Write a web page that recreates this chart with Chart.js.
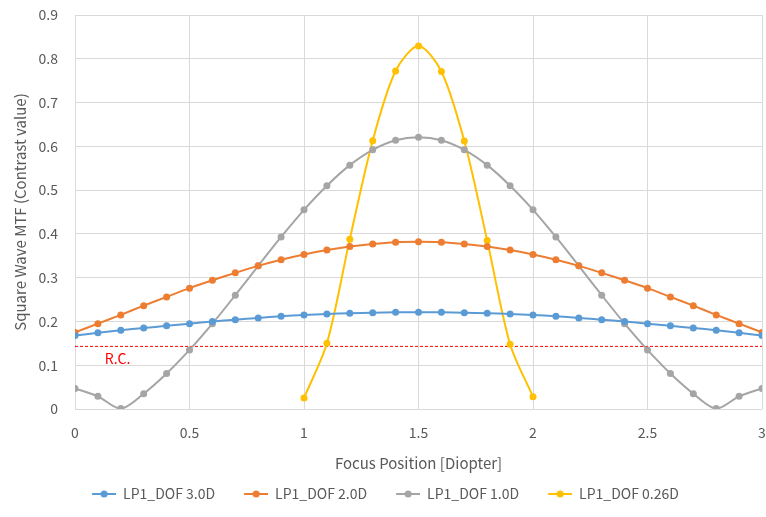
<!DOCTYPE html>
<html>
<head>
<meta charset="utf-8">
<script src="https://cdn.jsdelivr.net/npm/chart.js@4.4.0/dist/chart.umd.min.js"></script>
<style>
  html, body { margin: 0; padding: 0; background: #fff; }
  #wrap { width: 766px; height: 517px; }
</style>
</head>
<body>
<div id="wrap"><canvas id="mtfChart"></canvas></div>
<script>
// focus positions (diopter)
const focusFull = [0, 0.1, 0.2, 0.3, 0.4, 0.5, 0.6, 0.7, 0.8, 0.9, 1.0, 1.1, 1.2, 1.3, 1.4, 1.5,
                   1.6, 1.7, 1.8, 1.9, 2.0, 2.1, 2.2, 2.3, 2.4, 2.5, 2.6, 2.7, 2.8, 2.9, 3.0];
const focusNarrow = [1.0, 1.1, 1.2, 1.3, 1.4, 1.5, 1.6, 1.7, 1.8, 1.9, 2.0];

const dof30 = [0.168, 0.174, 0.180, 0.185, 0.190, 0.195, 0.200, 0.204, 0.208, 0.212, 0.215, 0.217, 0.219, 0.220, 0.221, 0.221,
               0.221, 0.220, 0.219, 0.217, 0.215, 0.212, 0.208, 0.204, 0.200, 0.195, 0.190, 0.185, 0.180, 0.174, 0.168];
const dof20 = [0.175, 0.195, 0.215, 0.236, 0.256, 0.276, 0.294, 0.311, 0.327, 0.341, 0.353, 0.363, 0.371, 0.377, 0.381, 0.382,
               0.381, 0.377, 0.371, 0.363, 0.353, 0.341, 0.327, 0.311, 0.294, 0.276, 0.256, 0.236, 0.215, 0.195, 0.175];
const dof10 = [0.047, 0.029, 0.001, 0.035, 0.081, 0.135, 0.195, 0.260, 0.327, 0.393, 0.455, 0.510, 0.557, 0.592, 0.614, 0.621,
               0.614, 0.592, 0.557, 0.510, 0.455, 0.393, 0.327, 0.260, 0.195, 0.135, 0.081, 0.035, 0.001, 0.029, 0.047];
const dof026 = [0.025, 0.150, 0.388, 0.613, 0.772, 0.829, 0.771, 0.612, 0.385, 0.148, 0.028];

const rcLevel = 0.143;
const rcLabel = 'R.C.';

const seriesNames = ['LP1_DOF 3.0D', 'LP1_DOF 2.0D', 'LP1_DOF 1.0D', 'LP1_DOF 0.26D'];
const seriesColors = ['#5b9bd5', '#ed7d31', '#a5a5a5', '#ffc000'];

function toPoints(xs, ys) {
    return xs.map((x, i) => ({ x: x, y: ys[i] }));
}

// legend marker: short line with a dot, with some empty room on the left
// so the items sit further apart
const markerLead = 9;
const markerLen = 24;
function legendMarker(color) {
    const c = document.createElement('canvas');
    c.width = markerLead + markerLen; c.height = 10;
    const g = c.getContext('2d');
    g.strokeStyle = color;
    g.lineWidth = 2;
    g.beginPath(); g.moveTo(markerLead, 5); g.lineTo(markerLead + markerLen, 5); g.stroke();
    g.fillStyle = color;
    g.beginPath(); g.arc(markerLead + markerLen / 2, 5, 3.5, 0, Math.PI * 2); g.fill();
    return c;
}

function series(name, color, xs, ys) {
    return {
        label: name,
        data: toPoints(xs, ys),
        borderColor: color,
        backgroundColor: color,
        borderWidth: 2,
        pointRadius: 3.5,
        pointHoverRadius: 4,
        pointBorderWidth: 0,
        tension: 0.3
    };
}

const datasets = [
    series(seriesNames[0], seriesColors[0], focusFull, dof30),
    series(seriesNames[1], seriesColors[1], focusFull, dof20),
    series(seriesNames[2], seriesColors[2], focusFull, dof10),
    series(seriesNames[3], seriesColors[3], focusNarrow, dof026),
    {
        label: rcLabel,
        data: [{ x: 0, y: rcLevel }, { x: 3, y: rcLevel }],
        borderColor: '#ff0000',
        borderWidth: 1,
        borderDash: [3, 2],
        pointRadius: 0,
        tension: 0
    }
];

const rcText = {
    id: 'rcText',
    afterDatasetsDraw(chart) {
        const { ctx, scales } = chart;
        ctx.save();
        ctx.fillStyle = '#ff0000';
        ctx.font = '14px "Noto Sans CJK KR", "Open Sans", sans-serif';
        ctx.textBaseline = 'middle';
        ctx.fillText(rcLabel, scales.x.getPixelForValue(0.13), scales.y.getPixelForValue(rcLevel) + 12);
        ctx.restore();
    }
};

const tickFont = { family: '"Noto Sans CJK KR", "Open Sans", sans-serif', size: 14 };
const titleFont = { family: '"Noto Sans CJK KR", "Open Sans", sans-serif', size: 15 };

new Chart(document.getElementById('mtfChart'), {
    type: 'line',
    data: { datasets: datasets },
    plugins: [rcText],
    options: {
        responsive: true,
        maintainAspectRatio: false,
        animation: false,
        layout: { padding: { top: 0, right: 4, left: 0, bottom: 6 } },
        scales: {
            x: {
                type: 'linear',
                min: 0,
                max: 3,
                ticks: { stepSize: 0.5, color: '#595959', font: tickFont, padding: 15,
                         callback: v => String(v) },
                grid: { color: '#d9d9d9', drawTicks: false },
                border: { display: false },
                title: { display: true, text: 'Focus Position [Diopter]', color: '#595959', font: titleFont, padding: { top: 14, bottom: -5 } },
                afterFit: s => { s.height = 58; s.paddingLeft = 0; s.paddingRight = 0; }
            },
            y: {
                min: 0,
                max: 0.9,
                ticks: { stepSize: 0.1, color: '#595959', font: tickFont, padding: 17 },
                grid: { color: '#d9d9d9', drawTicks: false },
                border: { display: false },
                title: { display: true, text: 'Square Wave MTF (Contrast value)', color: '#595959', font: titleFont, padding: { top: 11, bottom: 0 } },
                afterFit: s => { s.width = 75; s.paddingTop = 15; s.paddingBottom = 0; }
            }
        },
        plugins: {
            tooltip: { enabled: false },
            legend: {
                position: 'bottom',
                labels: {
                    color: '#595959',
                    font: tickFont,
                    usePointStyle: true,
                    pointStyleWidth: markerLead + markerLen,
                    padding: 20,
                    filter: item => item.text !== rcLabel,
                    generateLabels(chart) {
                        const items = Chart.defaults.plugins.legend.labels.generateLabels(chart);
                        items.forEach(it => {
                            const c = seriesColors[it.datasetIndex];
                            if (c) it.pointStyle = legendMarker(c);
                        });
                        return items;
                    }
                }
            }
        }
    }
});
</script>
</body>
</html>
